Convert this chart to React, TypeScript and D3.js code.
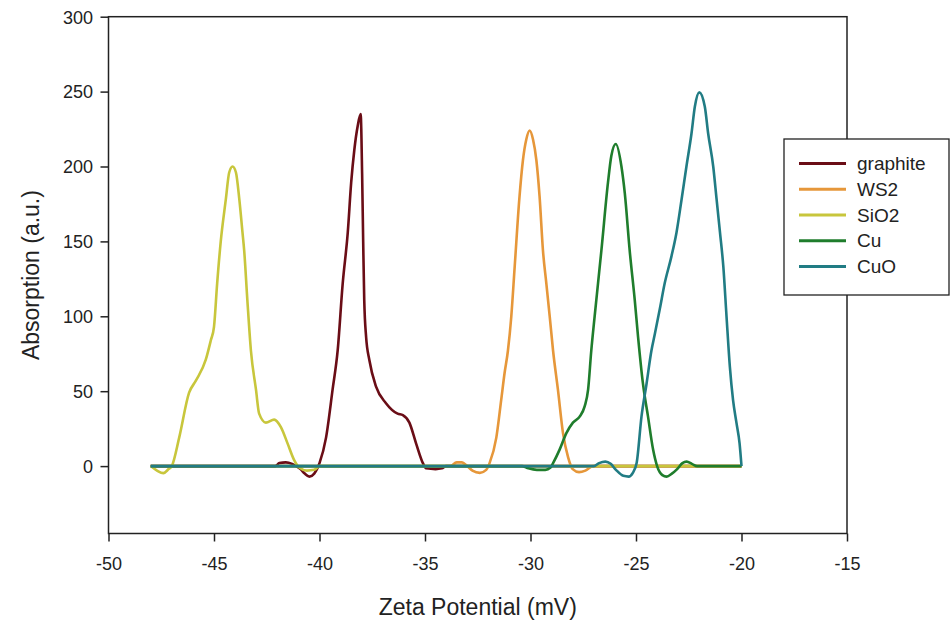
import React, { useRef, useEffect } from 'react';
import { select, scaleLinear, axisBottom, axisLeft, line, curveMonotoneX } from 'd3';

// legend order = drawing order (CuO ends up on top)
const seriesNames = ['graphite', 'WS2', 'SiO2', 'Cu', 'CuO'];
const seriesColors = ['#6a0d16', '#e6973a', '#c8c63c', '#1f7d2c', '#217c84'];

const xTicks = [-50, -45, -40, -35, -30, -25, -20, -15];
const yTicks = [0, 50, 100, 150, 200, 250, 300];

// [zeta potential (mV), absorption (a.u.)]
const graphite = [
  [-48, 0], [-42.1, 0], [-41.9, 2], [-41.6, 2.5], [-41.3, 1.5], [-41.1, 0], [-40.9, -2],
  [-40.7, -5], [-40.48, -7], [-40.25, -5], [-40.0, 2], [-39.69, 19], [-39.38, 51],
  [-39.14, 77], [-38.9, 122], [-38.66, 156], [-38.5, 189], [-38.35, 211], [-38.19, 227],
  [-38.05, 235], [-37.98, 195], [-37.93, 150], [-37.88, 111], [-37.79, 86], [-37.64, 71],
  [-37.32, 53], [-36.85, 42], [-36.3, 35], [-36.05, 34], [-35.74, 29], [-35.42, 15],
  [-35.1, 2], [-34.95, -1.5], [-34.5, -2], [-34.2, -1.5], [-34.0, 0], [-20, 0],
];

const ws2 = [
  [-48, 0], [-33.8, 0], [-33.5, 2.5], [-33.25, 2.5], [-33.0, 0], [-32.75, -3], [-32.4, -4.5],
  [-32.1, -2.5], [-31.94, 2], [-31.62, 19], [-31.39, 44], [-31.23, 62], [-31.07, 77],
  [-30.91, 100], [-30.75, 133], [-30.52, 180], [-30.36, 204], [-30.2, 218], [-30.04, 224],
  [-29.88, 218], [-29.72, 204], [-29.57, 180], [-29.41, 144], [-29.25, 122], [-29.09, 100],
  [-28.93, 77], [-28.7, 51], [-28.46, 22], [-28.22, 6], [-28.0, -2], [-27.7, -4],
  [-27.4, -3], [-27.04, 0], [-20, 0],
];

const sio2 = [
  [-48, 0], [-47.7, -3], [-47.4, -4.7], [-47.15, -2], [-47.0, 0], [-46.65, 19], [-46.18, 49],
  [-45.86, 57], [-45.39, 71], [-45.15, 84], [-45.0, 93], [-44.85, 122], [-44.68, 150],
  [-44.44, 178], [-44.28, 196], [-44.12, 200], [-43.96, 196], [-43.8, 178], [-43.65, 156],
  [-43.57, 144], [-43.42, 111], [-43.25, 77], [-43.01, 51], [-42.86, 35], [-42.54, 29],
  [-42.15, 31], [-41.83, 26], [-41.51, 15], [-41.2, 4], [-40.96, -1], [-40.6, -3],
  [-40.25, -2.5], [-40.0, 0], [-20, 0],
];

const cu = [
  [-48, 0], [-30.4, 0], [-30.1, -1.5], [-29.7, -2.5], [-29.3, -2.5], [-29.05, -1], [-28.93, 2],
  [-28.62, 11], [-28.3, 22], [-27.99, 29], [-27.67, 33], [-27.43, 40], [-27.27, 51],
  [-27.12, 77], [-26.96, 100], [-26.8, 122], [-26.64, 144], [-26.33, 189], [-26.17, 207],
  [-25.96, 215], [-25.69, 200], [-25.53, 182], [-25.3, 144], [-25.06, 111], [-24.9, 86],
  [-24.67, 55], [-24.43, 33], [-24.19, 11], [-24.0, 0], [-23.75, -6], [-23.55, -7],
  [-23.3, -5], [-23.05, -2], [-22.8, 2], [-22.6, 3], [-22.35, 1.5], [-22.1, 0], [-20, 0],
];

const cuo = [
  [-48, 0], [-27.0, 0], [-26.75, 2], [-26.45, 3], [-26.2, 1.5], [-25.95, -2.5], [-25.6, -6.5],
  [-25.35, -7], [-25.15, -4.5], [-24.97, 2], [-24.74, 33], [-24.5, 55], [-24.27, 77],
  [-24.11, 88], [-23.87, 105], [-23.64, 122], [-23.32, 140], [-23.08, 156], [-22.84, 178],
  [-22.61, 200], [-22.37, 222], [-22.21, 240], [-22.0, 249.5], [-21.74, 240], [-21.58, 222],
  [-21.34, 200], [-21.18, 178], [-21.02, 156], [-20.86, 133], [-20.71, 100], [-20.55, 66],
  [-20.4, 44], [-20.24, 29], [-20.09, 15], [-20.0, 0],
];

const seriesData = [graphite, ws2, sio2, cu, cuo];

const FONT = '"Liberation Sans", Arial, sans-serif';

function ZetaChart() {
  const svgRef = useRef(null);

  useEffect(() => {
    const svg = select(svgRef.current);
    svg.selectAll('*').remove();

    const left = 108.5, right = 847, top = 16.7, bottom = 533.5;

    const xScale = scaleLinear().domain([-50, -15]).range([left, right]);
    const yScale = scaleLinear().domain([-45, 300]).range([bottom, top]);

    // series lines
    const lineGen = line()
      .x(d => xScale(d[0]))
      .y(d => yScale(d[1]))
      .curve(curveMonotoneX);

    svg.selectAll('.series')
      .data(seriesData)
      .join('path')
        .attr('class', 'series')
        .attr('d', d => lineGen(d))
        .attr('fill', 'none')
        .attr('stroke', (d, i) => seriesColors[i])
        .attr('stroke-width', 2.6)
        .attr('stroke-linejoin', 'round');

    // frame
    svg.append('rect')
      .attr('x', left).attr('y', top)
      .attr('width', right - left).attr('height', bottom - top)
      .attr('fill', 'none')
      .attr('stroke', '#222')
      .attr('stroke-width', 1.5);

    // x axis
    const gx = svg.append('g')
      .attr('transform', `translate(0,${bottom})`)
      .call(axisBottom(xScale).tickValues(xTicks).tickSize(8).tickFormat(d => String(d)));
    gx.select('.domain').remove();
    gx.selectAll('line').attr('stroke', '#222').attr('stroke-width', 1.5);
    gx.selectAll('text')
      .attr('y', 36.5).attr('dy', '0')
      .attr('fill', '#222')
      .style('font-family', FONT).style('font-size', '18px');

    // y axis
    const gy = svg.append('g')
      .attr('transform', `translate(${left},0)`)
      .call(axisLeft(yScale).tickValues(yTicks).tickSize(8).tickFormat(d => String(d)));
    gy.select('.domain').remove();
    gy.selectAll('line').attr('stroke', '#222').attr('stroke-width', 1.5);
    gy.selectAll('text')
      .attr('x', -15.5).attr('dy', '0.35em')
      .attr('fill', '#222')
      .style('font-family', FONT).style('font-size', '18px');

    // axis titles
    svg.append('text')
      .attr('x', (left + right) / 2).attr('y', 615)
      .attr('text-anchor', 'middle')
      .attr('fill', '#222')
      .style('font-family', FONT).style('font-size', '23px')
      .text('Zeta Potential (mV)');

    svg.append('text')
      .attr('transform', `translate(38.5,${(top + bottom) / 2}) rotate(-90)`)
      .attr('text-anchor', 'middle')
      .attr('fill', '#222')
      .style('font-family', FONT).style('font-size', '23px')
      .text('Absorption (a.u.)');

    // legend
    const legend = svg.append('g').attr('transform', 'translate(784,139)');
    legend.append('rect')
      .attr('width', 165).attr('height', 156)
      .attr('fill', '#fff')
      .attr('stroke', '#222')
      .attr('stroke-width', 1.3);

    const rows = legend.selectAll('.row')
      .data(seriesNames)
      .join('g')
        .attr('class', 'row')
        .attr('transform', (d, i) => `translate(0,${24.5 + i * 25.75})`);
    rows.append('line')
      .attr('x1', 15).attr('x2', 62)
      .attr('stroke', (d, i) => seriesColors[i])
      .attr('stroke-width', 3);
    rows.append('text')
      .attr('x', 73).attr('dy', '0.35em')
      .attr('fill', '#222')
      .style('font-family', FONT).style('font-size', '19px')
      .text(d => d);
  }, []);

  return (
    <svg
      ref={svgRef}
      width={951}
      height={626}
      style={{ position: 'absolute', left: 0, top: 0, background: '#fff' }}
    />
  );
}

export default function App() {
  return <ZetaChart />;
}
